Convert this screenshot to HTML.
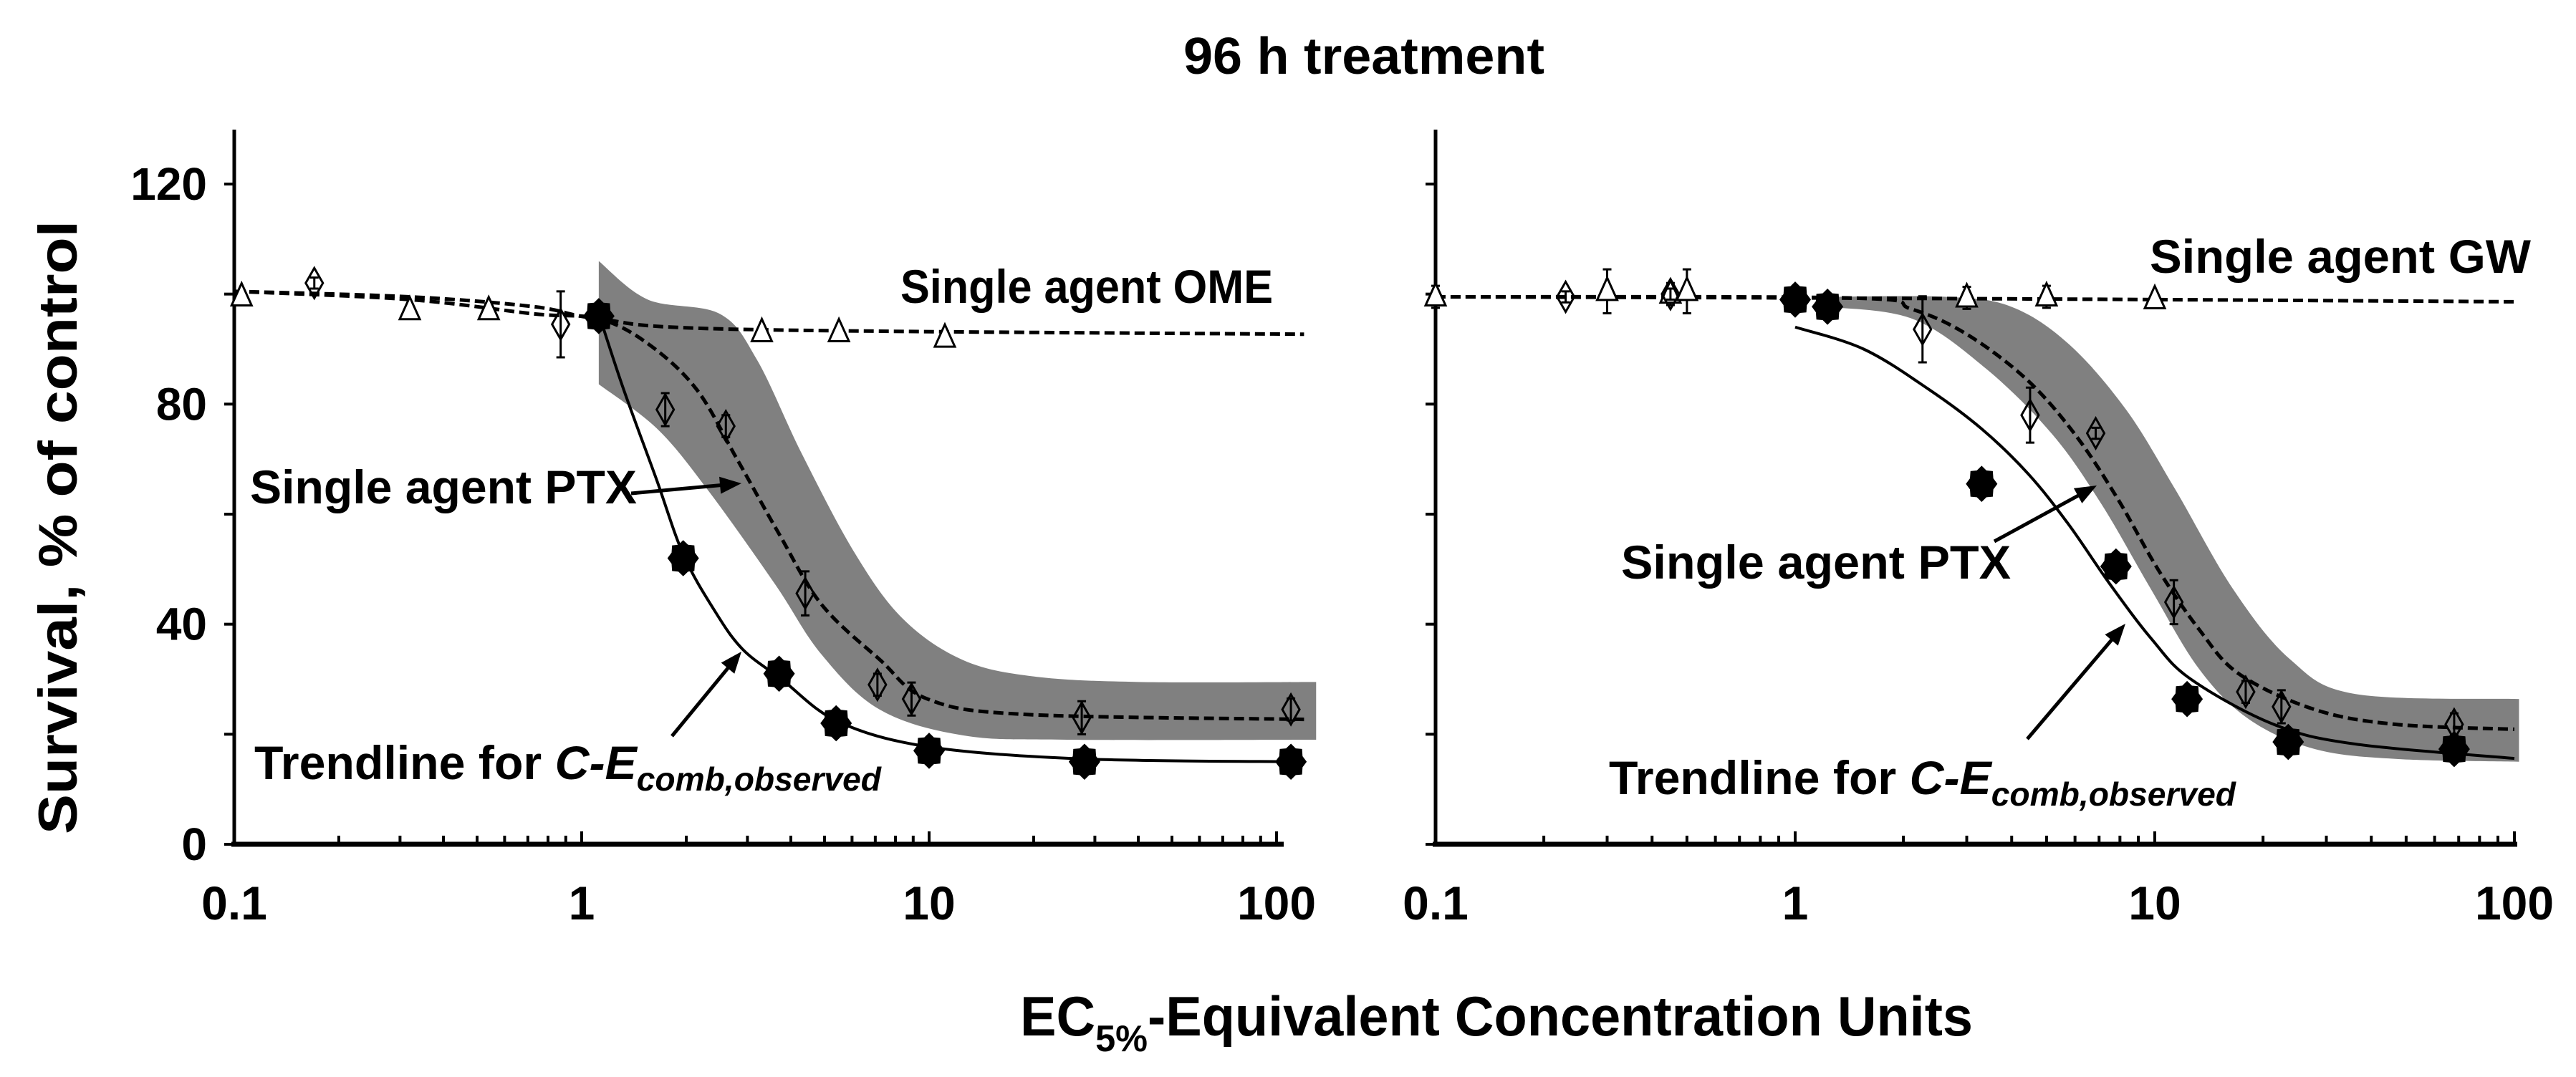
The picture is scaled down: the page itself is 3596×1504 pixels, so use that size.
<!DOCTYPE html>
<html><head><meta charset="utf-8"><style>
html,body{margin:0;padding:0;background:#fff;}
svg{display:block;}
text{font-family:"Liberation Sans Narrow","Liberation Sans",sans-serif;font-weight:bold;fill:#000;}
</style></head><body>
<svg id="chart" width="3596" height="1504" viewBox="0 0 3596 1504" xmlns="http://www.w3.org/2000/svg">
<text x="1652" y="103" font-size="72" textLength="504" lengthAdjust="spacingAndGlyphs">96 h treatment</text>
<text transform="translate(107,1165) rotate(-90)" font-size="76" textLength="857" lengthAdjust="spacingAndGlyphs" style="font-family:'Liberation Sans',sans-serif">Survival,  %  of  control</text>
<text x="1424" y="1446" font-size="78" textLength="1330" lengthAdjust="spacingAndGlyphs">EC<tspan font-size="52" dy="22">5%</tspan><tspan dy="-22">-Equivalent  Concentration  Units</tspan></text>
<g id="left"></g>
<g id="right"></g>
</svg>
<script>
// ---------- LEFT PANEL DATA ----------
const yTicks=[0,20,40,60,80,100,120];
const yTickLabels=["0","","40","","80","","120"];
const xTickLabels=["0.1","1","10","100"];
const xTickValues=[0.1,1,10,100];
const L_omeX=[0.105,0.32,0.54,3.3,5.5,11.1];
const L_omeY=[99.5,97,97,93,93,92];
const L_ptxX=[0.17,0.87,1.74,2.6,4.4,7.1,8.9,27.5,110];
const L_ptxY=[102,94.5,79,76,45.6,29,26.4,23,24.5];
const L_ptxErr=[1,6,3,2,4,2,3,3,2];
const L_combX=[1.12,1.96,3.7,5.4,10,28,110];
const L_combY=[96,52,31,22,17,15,15];
const L_omeCurveX=[0.1,0.32,0.73,1.12,2.8,120];
const L_omeCurveY=[100.5,99.5,97.7,95.5,93.6,92.7];
const L_ptxCurveX=[0.1,0.32,0.73,1.12,1.55,2.14,2.8,3.7,4.9,7.2,9.9,18.9,120];
const L_ptxCurveY=[100.5,99,96.4,95.5,91,82.7,70,56.4,43.6,33.6,26.4,23.6,22.7];
const L_combCurveX=[1.12,1.32,1.64,1.96,2.4,2.9,3.76,5.47,10,28,120];
const L_combCurveY=[96.4,82.7,66.4,52.7,42.7,35.5,30,22.3,17.7,15.5,15];
const L_bandUpX=[1.12,1.55,2.5,3.2,4.3,6.1,8.4,12.5,20,40,130];
const L_bandUpY=[106,99,96.4,88,71,53,41,33.5,30.5,29.5,29.5];
const L_bandLoX=[1.12,1.65,2.3,3.6,4.9,7.2,12.5,25,130];
const L_bandLoY=[83.6,75.5,64.5,47.3,34.5,24.5,19.8,19,19];
// ---------- RIGHT PANEL DATA ----------
const R_gwX=[0.1,0.3,0.45,0.5,3.0,5.0,10];
const R_gwY=[99.5,100.5,100,100.5,99.3,99.5,99];
const R_gwErr=[2,4,2,4,2,2,1];
const R_ptxX=[0.23,0.45,2.26,4.5,6.85,11.3,17.9,22.5,68];
const R_ptxY=[99.5,100,93.6,78,74.7,44,27.7,25,21.8];
const R_ptxErr=[1,1,6,5,1,4,2,3,2];
const R_combX=[1.0,1.23,3.3,7.8,12.3,23.5,68];
const R_combY=[99,97.7,65.5,50.5,26.4,18.6,17.3];
const R_gwCurveX=[0.1,1,10,100];
const R_gwCurveY=[99.5,99.3,99,98.6];
const R_ptxCurveX=[0.1,1.4,2.1,3.0,4.4,6.0,7.9,10.2,13.3,17.2,27.8,46.7,100];
const R_ptxCurveY=[99.5,99.3,97.3,92.7,84.5,74.5,62.7,50,39,30.9,24.5,21.8,20.9];
const R_combCurveX=[1.0,1.55,2.35,3.3,4.45,5.75,7.5,9.8,12.6,21.4,36.2,100];
const R_combCurveY=[94,90,82.7,75.5,67.3,58.2,47.3,37.3,30,21.8,18.2,15.6];
const R_bandUpX=[1.22,2.62,3.99,5.77,8.32,11.4,16.5,23.8,36.2,103];
const R_bandUpY=[99.5,99.5,97.7,90.9,79,64.5,46.4,33.6,27.3,26.4];
const R_bandLoX=[1.22,2.12,3.4,5.19,7.11,9.75,13.3,18.3,27.9,47.1,103];
const R_bandLoY=[97.7,95.5,86.4,74.5,61.8,46.4,31.8,22.7,17.3,15.5,15];

const NS="http://www.w3.org/2000/svg";
function mk(parent,tag,attrs){const e=document.createElementNS(NS,tag);for(const k in attrs)e.setAttribute(k,attrs[k]);parent.appendChild(e);return e;}
const Y0=1179, YPER=(1179-257)/120;
function sy(v){return Y0-v*YPER;}
function makeSX(x0,dec){return v=>x0+(Math.log10(v)+1)*dec;}
function smooth(pts){let d="M"+pts[0][0]+","+pts[0][1];for(let i=0;i<pts.length-1;i++){const p0=pts[i-1]||pts[i],p1=pts[i],p2=pts[i+1],p3=pts[i+2]||p2;const c1x=p1[0]+(p2[0]-p0[0])/6,c1y=p1[1]+(p2[1]-p0[1])/6,c2x=p2[0]-(p3[0]-p1[0])/6,c2y=p2[1]-(p3[1]-p1[1])/6;d+=` C${c1x},${c1y} ${c2x},${c2y} ${p2[0]},${p2[1]}`;}return d;}
function star(cx,cy,r){let pts=[];for(let i=0;i<16;i++){const rr=i%2?r*0.8:r;const a=Math.PI*i/8;pts.push((cx+rr*Math.sin(a)).toFixed(1)+","+(cy-rr*Math.cos(a)*1.15).toFixed(1));}return pts.join(" ");}

function panel(g,sx,xEnd,showLabels,D){
  const up=D.bUX.map((x,i)=>[sx(x),sy(D.bUY[i])]);
  const lo=D.bLX.map((x,i)=>[sx(x),sy(D.bLY[i])]).reverse();
  let d=smooth(up)+" L"+lo[0][0]+","+lo[0][1]+smooth(lo).replace(/^M[^C]*/,"")+" Z";
  const band=mk(g,"path",{d:d,fill:"#808080"});
  
  
  const ax=mk(g,"line",{x1:sx(0.1)-4,y1:Y0,x2:xEnd,y2:Y0,stroke:"#000","stroke-width":7});
  
  
  const ay=mk(g,"line",{x1:sx(0.1),y1:181,x2:sx(0.1),y2:Y0,stroke:"#000","stroke-width":5});
  
  
  yTicks.forEach((v,i)=>{
    mk(g,"line",{x1:sx(0.1)-14,y1:sy(v),x2:sx(0.1),y2:sy(v),stroke:"#000","stroke-width":4});
    if(showLabels&&yTickLabels[i]){const t=mk(g,"text",{x:sx(0.1)-38,y:sy(v)+22,"font-size":64,"text-anchor":"end",style:"font-family:'Liberation Sans',sans-serif"});t.textContent=yTickLabels[i];
      
      }
  });
  for(let dec=-1;dec<=2;dec++)for(let m=1;m<=9;m++){const v=m*Math.pow(10,dec);if(sx(v)>xEnd)continue;mk(g,"line",{x1:sx(v),y1:Y0,x2:sx(v),y2:Y0-(m==1?18:12),stroke:"#000","stroke-width":4});}
  xTickValues.forEach((v,i)=>{const t=mk(g,"text",{x:sx(v),y:1284,"font-size":66,"text-anchor":"middle",style:"font-family:'Liberation Sans',sans-serif"});t.textContent=xTickLabels[i];
    
    });
  D.curves.forEach(c=>{const p=mk(g,"path",{d:smooth(c.x.map((x,i)=>[sx(x),sy(c.y[i])])),fill:"none",stroke:"#000","stroke-width":c.dash?5:4,"stroke-dasharray":c.dash?"14,7":"none"});
    
    });
  D.tri.x.forEach((x,i)=>{const cx=sx(x),cy=sy(D.tri.y[i]);
    if(D.tri.e){mk(g,"path",{d:`M${cx},${cy-D.tri.e[i]*YPER}V${cy+D.tri.e[i]*YPER}M${cx-6},${cy-D.tri.e[i]*YPER}h12M${cx-6},${cy+D.tri.e[i]*YPER}h12`,stroke:"#000","stroke-width":3});}
    const p=mk(g,"polygon",{points:`${cx},${cy-19} ${cx-14},${cy+12} ${cx+14},${cy+12}`,fill:"#fff",stroke:"#000","stroke-width":3});
    
    });
  D.dia.x.forEach((x,i)=>{const cx=sx(x),cy=sy(D.dia.y[i]),e=D.dia.e[i]*YPER;
    mk(g,"path",{d:`M${cx},${cy-e}V${cy+e}M${cx-6},${cy-e}h12M${cx-6},${cy+e}h12`,stroke:"#000","stroke-width":3});
    const p=mk(g,"polygon",{points:`${cx},${cy-21} ${cx-12},${cy} ${cx},${cy+21} ${cx+12},${cy}`,fill:"none",stroke:"#000","stroke-width":3});
    
    });
  D.st.x.forEach((x,i)=>{const p=mk(g,"polygon",{points:star(sx(x),sy(D.st.y[i]),22),fill:"#000"});
    
    });
}
const sxL=makeSX(327,485), sxR=makeSX(2004,502);
panel(document.getElementById("left"),sxL,1792,true,{bUX:L_bandUpX,bUY:L_bandUpY,bLX:L_bandLoX,bLY:L_bandLoY,
  curves:[{x:L_omeCurveX,y:L_omeCurveY,dash:true,name:'ome-curve'},{x:L_ptxCurveX,y:L_ptxCurveY,dash:true,name:'ptx-curve'},{x:L_combCurveX,y:L_combCurveY,dash:false,name:'combination-trendline'}],
  tri:{x:L_omeX,y:L_omeY},dia:{x:L_ptxX,y:L_ptxY,e:L_ptxErr},st:{x:L_combX,y:L_combY}});
panel(document.getElementById("right"),sxR,3514,false,{bUX:R_bandUpX,bUY:R_bandUpY,bLX:R_bandLoX,bLY:R_bandLoY,
  curves:[{x:R_gwCurveX,y:R_gwCurveY,dash:true,name:'gw-curve'},{x:R_ptxCurveX,y:R_ptxCurveY,dash:true,name:'ptx-curve'},{x:R_combCurveX,y:R_combCurveY,dash:false,name:'combination-trendline'}],
  tri:{x:R_gwX,y:R_gwY,e:R_gwErr},dia:{x:R_ptxX,y:R_ptxY,e:R_ptxErr},st:{x:R_combX,y:R_combY}});

const svg=document.getElementById("chart");
function label(x,y,w,txt,name,sub){const t=mk(svg,"text",{x:x,y:y,"font-size":66,textLength:w,lengthAdjust:"spacingAndGlyphs"});
  if(sub){t.innerHTML='Trendline for <tspan font-style="italic">C-E</tspan><tspan font-style="italic" font-size="46" dy="16">comb,observed</tspan>';}else t.textContent=txt;
  
  }
function arrow(x1,y1,x2,y2,name){const a=Math.atan2(y2-y1,x2-x1),L=30,W=12;
  const g=mk(svg,"g",{});
  
  
  mk(g,"line",{x1:x1,y1:y1,x2:x2-Math.cos(a)*L*0.8,y2:y2-Math.sin(a)*L*0.8,stroke:"#000","stroke-width":5});
  const bx=x2-Math.cos(a)*L,by=y2-Math.sin(a)*L;
  mk(g,"polygon",{points:`${x2},${y2} ${bx-Math.sin(a)*W},${by+Math.cos(a)*W} ${bx+Math.sin(a)*W},${by-Math.cos(a)*W}`,fill:"#000"});}
label(1257,423,520,"Single agent OME","ome-label");
label(349,703,540,"Single agent PTX","ptx-label-left");
label(355,1088,875,"","trendline-label-left",true);
label(3001,381,532,"Single agent GW","gw-label");
label(2263,808,544,"Single agent PTX","ptx-label-right");
label(2246,1109,875,"","trendline-label-right",true);
arrow(881,689,1035,675,'ptx-arrow-left');
arrow(938,1028,1035,910,'trendline-arrow-left');
arrow(2784,756,2927,678,'ptx-arrow-right');
arrow(2830,1032,2967,871,'trendline-arrow-right');
</script>
</body></html>
